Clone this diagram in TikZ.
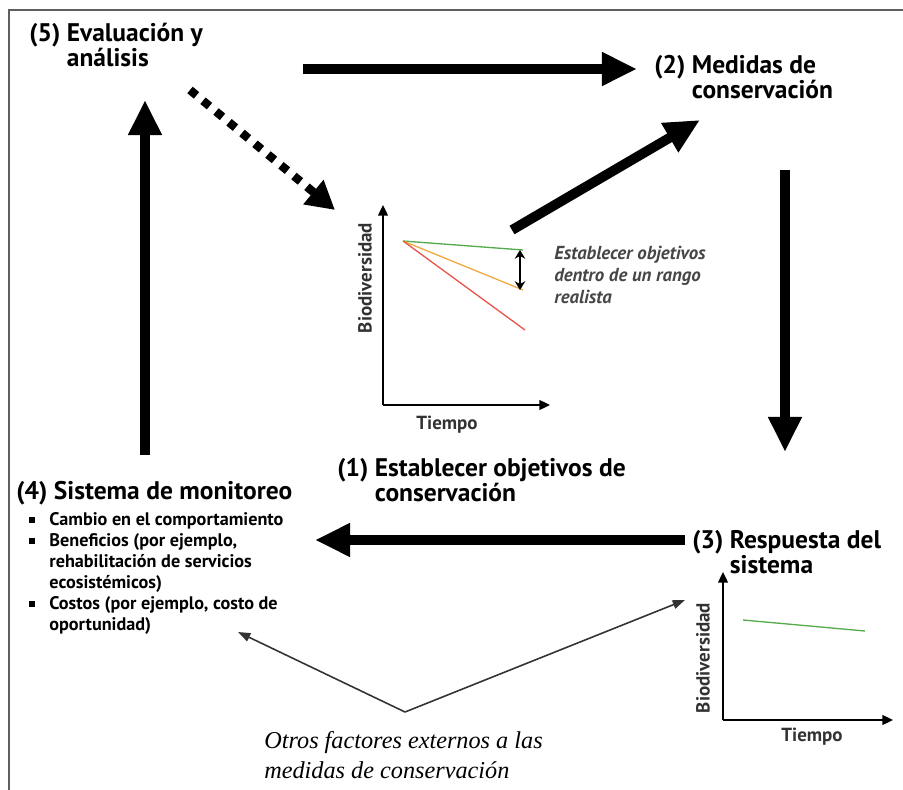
\documentclass[tikz,border=0pt]{standalone}
\usepackage{fontspec}
\setmainfont{PT Sans}
\newfontfamily\serifit{Liberation Serif}
\usepackage{xcolor}
\usetikzlibrary{positioning,arrows.meta}
\definecolor{framegray}{RGB}{95,95,95}
\definecolor{goodcolor}{RGB}{85,170,75}
\definecolor{midcolor}{RGB}{240,170,65}
\definecolor{badcolor}{RGB}{232,85,75}
\definecolor{notecolor}{RGB}{70,70,70}
\definecolor{axislabel}{RGB}{50,50,50}
\newcommand{\sqbullet}{\raisebox{0.28ex}{\rule{3.4pt}{3.4pt}}}
\newcommand{\stagepad}[1]{\hphantom{(#1) }}
\tikzset{
    stage title/.style={font=\fontsize{14.5}{13.8}\selectfont\bfseries, align=left, inner sep=0pt, anchor=west},
    item list/.style={font=\fontsize{10.35}{12}\selectfont\bfseries, inner sep=0pt, anchor=north west},
    note text/.style={font=\fontsize{10.7}{12.5}\selectfont\bfseries\itshape, text=notecolor, align=left, inner sep=0pt, anchor=west},
    external text/.style={font=\serifit\itshape\fontsize{13.8}{17}\selectfont, align=left, inner sep=0pt, anchor=west},
    axis label/.style={font=\fontsize{10.8}{12}\selectfont\bfseries, text=axislabel, inner sep=0pt},
    frame line/.style={framegray, line width=1.2pt},
    big arrow/.style={line width=5.6pt, -{Triangle[length=20pt,width=18pt]}},
    dotted arrow/.style={line width=4.8pt, dash pattern=on 4.8pt off 4.8pt, -{Triangle[length=16pt,width=17pt]}},
    axis/.style={line width=1.1pt, -{Triangle[length=6pt,width=5.5pt]}},
    trend/.style={line width=0.75pt},
    range arrow/.style={line width=1pt, {Stealth[length=5pt,width=6pt]}-{Stealth[length=5pt,width=6pt]}},
    thin arrow/.style={line width=0.9pt, black!80, -{Triangle[length=7pt,width=5pt]}}
}

\begin{document}
\begin{tikzpicture}[x=0.02cm, y=-0.02cm]
    \useasboundingbox (0,0) rectangle (903,790);

    % Frame (top and left only)
    \draw[frame line] (903,10) -- (9,10) -- (9,790);

    % Stage titles
    \node[stage title] (eval) at (29,45) {(5) Evaluación y\\\stagepad{5}análisis};
    \node[stage title] (medidas) at (654,77) {(2) Medidas de\\\stagepad{2}conservación};
    \node[stage title] (objetivos) at (337,480) {(1) Establecer objetivos de\\\stagepad{1}conservación};
    \node[stage title] (monitoreo) at (16,493) {(4) Sistema de monitoreo};
    \node[stage title] (respuesta) at (692,552) {(3) Respuesta del\\\stagepad{3}sistema};

    % Monitoring items
    \node[item list] (items) at (29,510) {%
        \begin{tabular}{@{}l@{\hspace{8pt}}l@{}}
            \sqbullet & Cambio en el comportamiento\\
            \sqbullet & Beneficios (por ejemplo,\\
                      & rehabilitación de servicios\\
                      & ecosistémicos)\\
            \sqbullet & Costos (por ejemplo, costo de\\
                      & oportunidad)
        \end{tabular}};

    % Chart of stage (1)
    \coordinate (o1) at (383,405);
    \draw[axis] (o1) -- (383,205);
    \draw[axis] (o1) -- (550,405);
    \coordinate (start1) at (403,241);
    \coordinate (good1) at (523,250);
    \coordinate (mid1) at (523,290);
    \draw[trend, goodcolor] (start1) -- (good1);
    \draw[trend, midcolor] (start1) -- (mid1);
    \draw[trend, badcolor] (start1) -- (525,330);
    \draw[range arrow] (520,250) -- (520,290);
    \node[axis label, rotate=90] (bio1) at (365,278) {Biodiversidad};
    \node[axis label] (time1) at (447,425) {Tiempo};
    \node[note text] (nota) at (554,275) {Establecer objetivos\\dentro de un rango\\realista};

    % Chart of stage (3)
    \coordinate (o3) at (723,720);
    \draw[axis] (o3) -- (723,572);
    \draw[axis] (o3) -- (893,720);
    \draw[trend, goodcolor] (743,620) -- (865,631);
    \node[axis label, rotate=90] (bio3) at (703,658) {Biodiversidad};
    \node[axis label] (time3) at (812,737) {Tiempo};

    % External factors
    \node[external text] (otros) at (264,755) {Otros factores externos a las\\medidas de conservación};
    \coordinate (vertex) at (405,712);
    \coordinate (tomon) at (238,632);
    \coordinate (toresp) at (685,600);
    \draw[thin arrow] (vertex) -- (tomon);
    \draw[thin arrow] (vertex) -- (toresp);

    % Cycle arrows
    \coordinate (a5out) at (303,69);
    \coordinate (a2in) at (637,69);
    \coordinate (a1out) at (512,230);
    \coordinate (a2in2) at (700,120);
    \coordinate (a2out) at (785,170);
    \coordinate (a3in) at (785,452);
    \coordinate (a3out) at (685,540);
    \coordinate (a4in) at (315,540);
    \coordinate (a4out) at (145,455);
    \coordinate (a5in) at (145,100);
    \coordinate (a5dash) at (190,90);
    \coordinate (a1in) at (335,210);
    \draw[big arrow] (a5out) -- (a2in);
    \draw[big arrow] (a1out) -- (a2in2);
    \draw[big arrow] (a2out) -- (a3in);
    \draw[big arrow] (a3out) -- (a4in);
    \draw[big arrow] (a4out) -- (a5in);
    \draw[dotted arrow] (a5dash) -- (a1in);
\end{tikzpicture}
\end{document}
